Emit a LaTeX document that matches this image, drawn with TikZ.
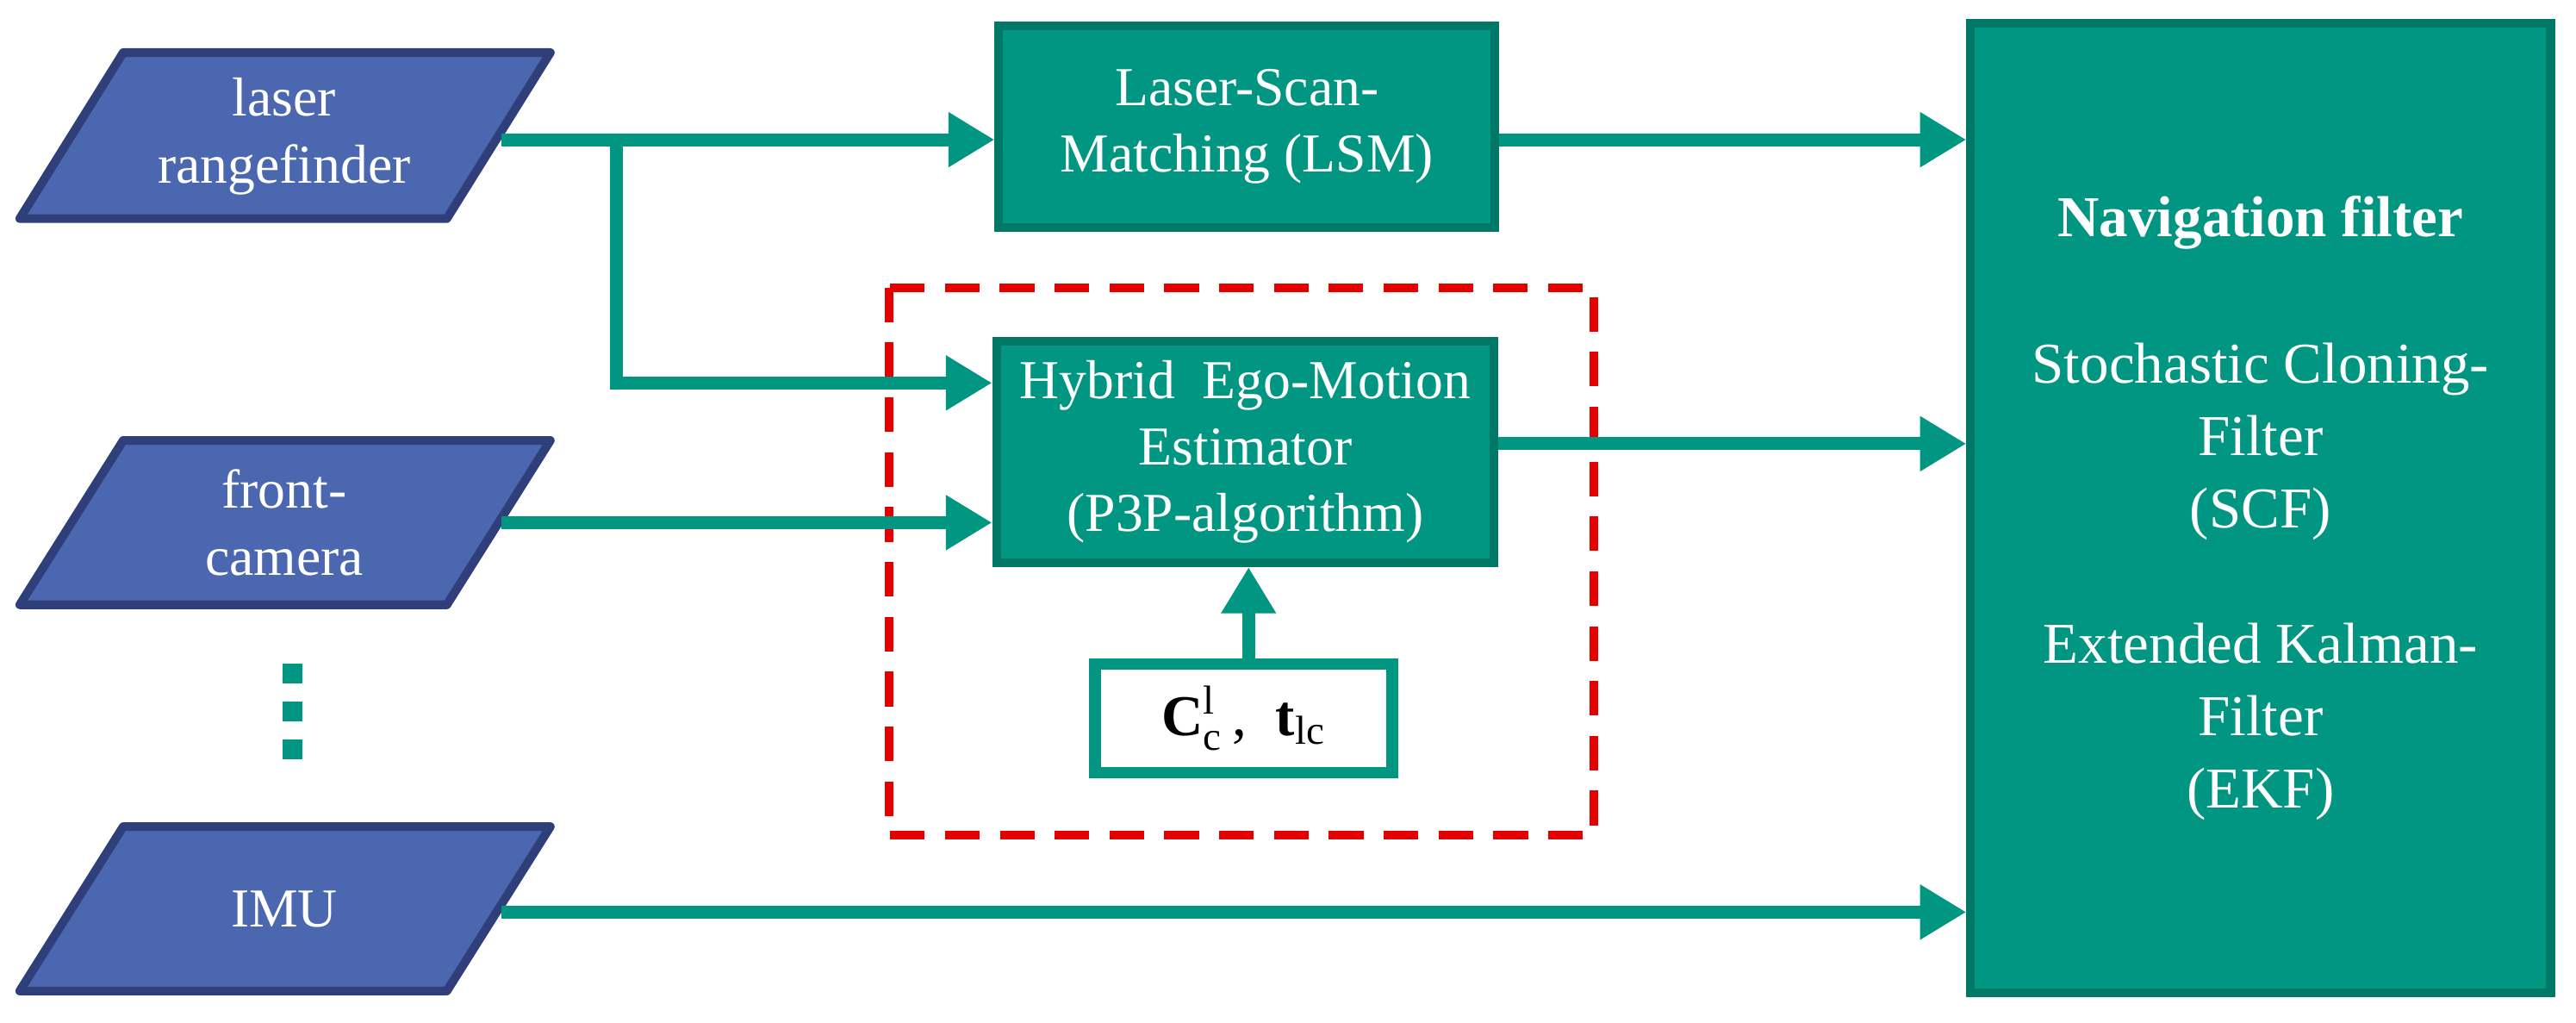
\documentclass[tikz,border=0pt]{standalone}
\usepackage{fontspec}
\setmainfont{Liberation Serif}
\usetikzlibrary{arrows.meta}
\definecolor{tl}{HTML}{009681}
\definecolor{bl}{HTML}{4A67B0}
\definecolor{bd}{HTML}{2F3F7A}
\begin{document}
\begin{tikzpicture}[x=0.02cm,y=-0.02cm,
  par/.style={fill=bl,draw=bd,line width=3pt,line join=round},
  ptxt/.style={text=white,align=center,font=\fontsize{19}{23}\selectfont},
  box/.style={fill=tl,draw=black!20!tl,line width=3pt,text=white,align=center,font=\fontsize{19}{23}\selectfont,inner sep=0pt},
  con/.style={draw=tl,line width=4.5pt,-{Triangle[length=16pt,width=18pt]}},
  seg/.style={draw=tl,line width=4.5pt}]
\useasboundingbox (0,0) rectangle (1568,622);
% parallelograms
\draw[par] (75,32)--(335,32)--(272,133)--(12,133)--cycle;
\node[ptxt] (laser) at (173,83) {laser\\rangefinder};
\draw[par] (75,268)--(335,268)--(272,368)--(12,368)--cycle;
\node[ptxt] (cam) at (173,318) {front-\\camera};
\draw[par] (75,503)--(335,503)--(272,603)--(12,603)--cycle;
\node[ptxt] (imu) at (173,553) {IMU};
\foreach \y [count=\i] in {410,433,456} \fill[tl] (172,\y-6) rectangle (184,\y+6);
% boxes
\node[box,minimum width=302*0.02cm,minimum height=123*0.02cm] (lsm) at (759,77) {Laser-Scan-\\Matching (LSM)};
\node[box,minimum width=303*0.02cm,minimum height=135*0.02cm] (hyb) at (758,275) {Hybrid~~Ego-Motion\\Estimator\\(P3P-algorithm)};
\node[box,minimum width=353*0.02cm,minimum height=590*0.02cm,font=\fontsize{20}{25}\selectfont] (nav) at (1376,309)
 {\textbf{Navigation filter}\\[1.3em]Stochastic Cloning-\\Filter\\(SCF)\\[1.1em]Extended Kalman-\\Filter\\(EKF)};
\node[draw=tl,line width=4pt,fill=white,minimum width=181*0.02cm,minimum height=66*0.02cm,font=\fontsize{20}{24}\selectfont,inner sep=0pt] (cbox) at (757,437) {$\mathbf{C}_{\mathrm{c}}^{\mathrm{l}}$\,,~~$\mathbf{t}_{\mathrm{lc}}$};
\draw[red!90!black,line width=3pt,dash pattern=on 12pt off 7pt] (541,175) rectangle (970,508);
% connectors
\coordinate (lo) at (305,85);
\coordinate (co) at (305,318);
\coordinate (io) at (305,555);
\coordinate (br) at (375,85);
\draw[con] (lo) -- (lsm.west|-lo);
\draw[con] (br) |- (hyb.west|-0,233);
\draw[con] (co) -- (hyb.west|-co);
\draw[con] (lsm.east|-lo) -- (nav.west|-lo);
\draw[con] (hyb.east|-0,270) -- (nav.west|-0,270);
\draw[con] (io) -- (nav.west|-io);
\draw[con] (cbox.north-|760,0) -- (hyb.south-|760,0);
\end{tikzpicture}
\end{document}
